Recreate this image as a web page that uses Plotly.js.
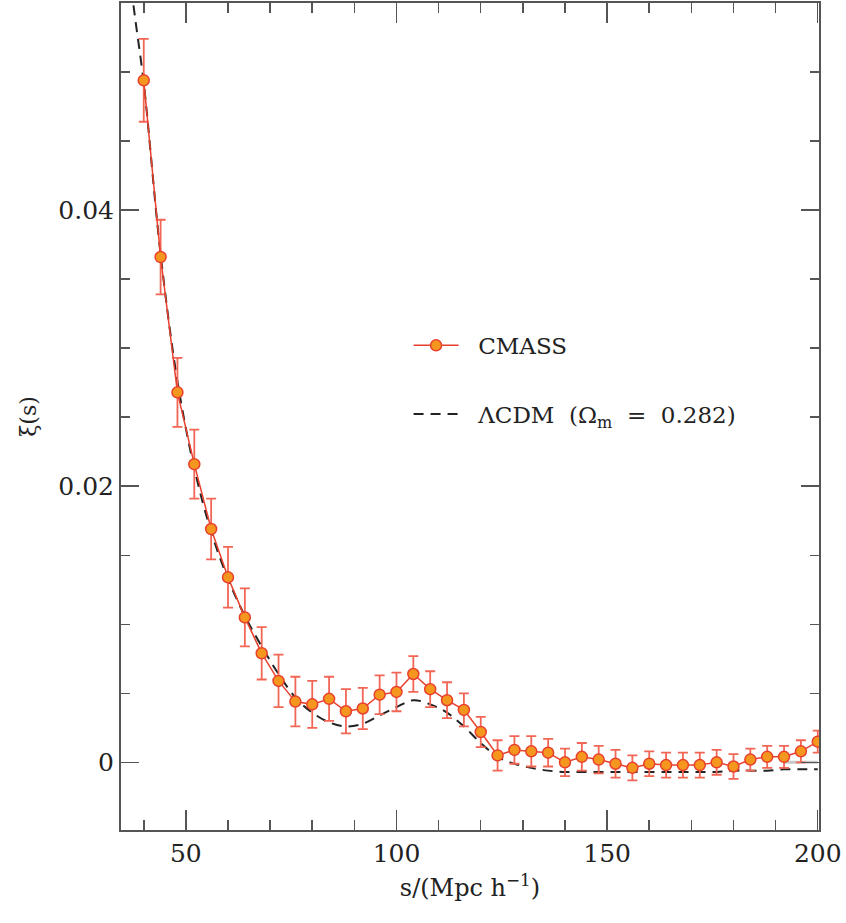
<!DOCTYPE html>
<html>
<head>
<meta charset="utf-8">
<script src="https://cdn.plot.ly/plotly-3.0.1.min.js"></script>
<style>html,body{margin:0;padding:0;background:#fff;}#chart{width:846px;height:923px;}</style>
</head>
<body>
<div id="chart"></div>
<script>
// CMASS measurement: separation s (Mpc/h), correlation xi(s), 1-sigma error
const sData = [40,44,48,52,56,60,64,68,72,76,80,84,88,92,96,100,104,108,112,116,120,
               124,128,132,136,140,144,148,152,156,160,164,168,172,176,180,184,188,192,196,200];
const xiData = [0.0494,0.0366,0.0268,0.0216,0.0169,0.0134,0.0105,0.0079,0.0059,0.0044,0.0042,
                0.0046,0.0037,0.0039,0.0049,0.0051,0.0064,0.0053,0.0045,0.0038,0.0022,
                0.0005,0.0009,0.0008,0.0007,0.0000,0.0004,0.0002,-0.0001,-0.0004,-0.0001,
                -0.0002,-0.0002,-0.0002,0.0000,-0.0003,0.0002,0.0004,0.0004,0.0008,0.0015];
const xiErr = [0.0030,0.0027,0.0025,0.0025,0.0022,0.0022,0.0021,0.0019,0.0019,0.0018,0.0017,
               0.0016,0.0016,0.0015,0.0014,0.0014,0.0013,0.0013,0.0013,0.0012,0.0011,
               0.0011,0.0010,0.0011,0.0010,0.0010,0.0010,0.0010,0.0010,0.0009,0.0009,
               0.0009,0.0009,0.0009,0.0009,0.0009,0.0008,0.0008,0.0008,0.0008,0.0008];

// LambdaCDM model curve (Omega_m = 0.282)
const sModel = [36,38,40,44,48,52,56,60,64,68,72,76,80,84,88,92,96,100,104,108,112,116,120,
                124,128,132,136,140,144,148,152,156,160,164,168,172,176,180,184,188,192,196,200];
const xiModel = [0.0585,0.0538,0.0492,0.0368,0.0276,0.0213,0.0167,0.0133,0.0106,0.0084,0.0064,
                 0.0047,0.0036,0.0029,0.0026,0.0028,0.0034,0.0040,0.0045,0.0042,0.0036,0.0026,0.0014,
                 0.0004,-0.0001,-0.0004,-0.0006,-0.0007,-0.0007,-0.0007,-0.0007,-0.0007,-0.0007,
                 -0.0007,-0.0007,-0.0007,-0.0007,-0.0006,-0.0006,-0.0006,-0.0005,-0.0005,-0.0005];

// faint zero reference segment at the right edge
const refS = [192, 200];
const refXi = [0, 0];

const xTicks = [50, 100, 150, 200];
const xTickText = ['50', '100', '150', '200'];
const yTicks = [0, 0.02, 0.04];
const yTickText = ['0', '0.02', '0.04'];

const sp = '\u00A0';
const serif = 'DejaVu Serif, Liberation Serif, serif';
const red = '#e8402d';

const traces = [
  {
    x: refS, y: refXi, mode: 'lines', showlegend: false, hoverinfo: 'skip',
    line: {color: '#c8c8c8', width: 3}
  },
  {
    x: sModel, y: xiModel, mode: 'lines',
    name: sp + sp + 'ΛCDM' + sp + sp + '(Ω<sub>m</sub>' + sp + sp + '=' + sp + sp + '0.282)',
    legend: 'legend2',
    line: {color: '#222', width: 2, dash: '10px,7px', shape: 'spline', smoothing: 1}
  },
  {
    x: sData, y: xiData, mode: 'lines+markers', name: sp + sp + 'CMASS',
    legend: 'legend',
    line: {color: red, width: 1.5},
    marker: {size: 11, color: '#f5961e', line: {color: red, width: 1.5}},
    error_y: {type: 'data', array: xiErr, visible: true, color: '#f26655', thickness: 1.8, width: 5}
  }
];

const axisCommon = {
  showgrid: false, zeroline: false, showline: true, linecolor: '#555', linewidth: 2,
  mirror: 'allticks', ticks: 'inside', tickcolor: '#555', tickwidth: 1.5,
  tickfont: {family: serif, size: 25, color: '#222'}
};

const legendFont = {family: serif, size: 23, color: '#222'};

const layout = {
  width: 846, height: 923,
  margin: {l: 121, r: 27, t: 3, b: 93},
  paper_bgcolor: '#fff', plot_bgcolor: '#fff',
  xaxis: Object.assign({}, axisCommon, {
    range: [34.6, 200.3], tickvals: xTicks, ticktext: xTickText, ticklen: 20,
    minor: {dtick: 10, tick0: 0, ticklen: 10, ticks: 'inside', tickcolor: '#555', tickwidth: 1.5},
    title: {text: 's/(Mpc h<sup>−1</sup>)', font: {family: serif, size: 24, color: '#222'}, standoff: 12}
  }),
  yaxis: Object.assign({}, axisCommon, {
    range: [-0.0049, 0.055], tickvals: yTicks, ticktext: yTickText, ticklen: 18,
    minor: {dtick: 0.005, tick0: 0, ticklen: 9, ticks: 'inside', tickcolor: '#555', tickwidth: 1.5},
    title: {text: 'ξ(s)', font: {family: serif, size: 22, color: '#222'}, standoff: 16}
  }),
  legend: {
    x: 0.412, y: 0.586, xanchor: 'left', yanchor: 'middle', bgcolor: 'rgba(0,0,0,0)',
    font: legendFont, itemwidth: 45
  },
  legend2: {
    x: 0.412, y: 0.503, xanchor: 'left', yanchor: 'middle', bgcolor: 'rgba(0,0,0,0)',
    font: legendFont, itemwidth: 45
  },
  showlegend: true
};

Plotly.newPlot('chart', traces, layout, {displayModeBar: false, staticPlot: true});
</script>
</body>
</html>
